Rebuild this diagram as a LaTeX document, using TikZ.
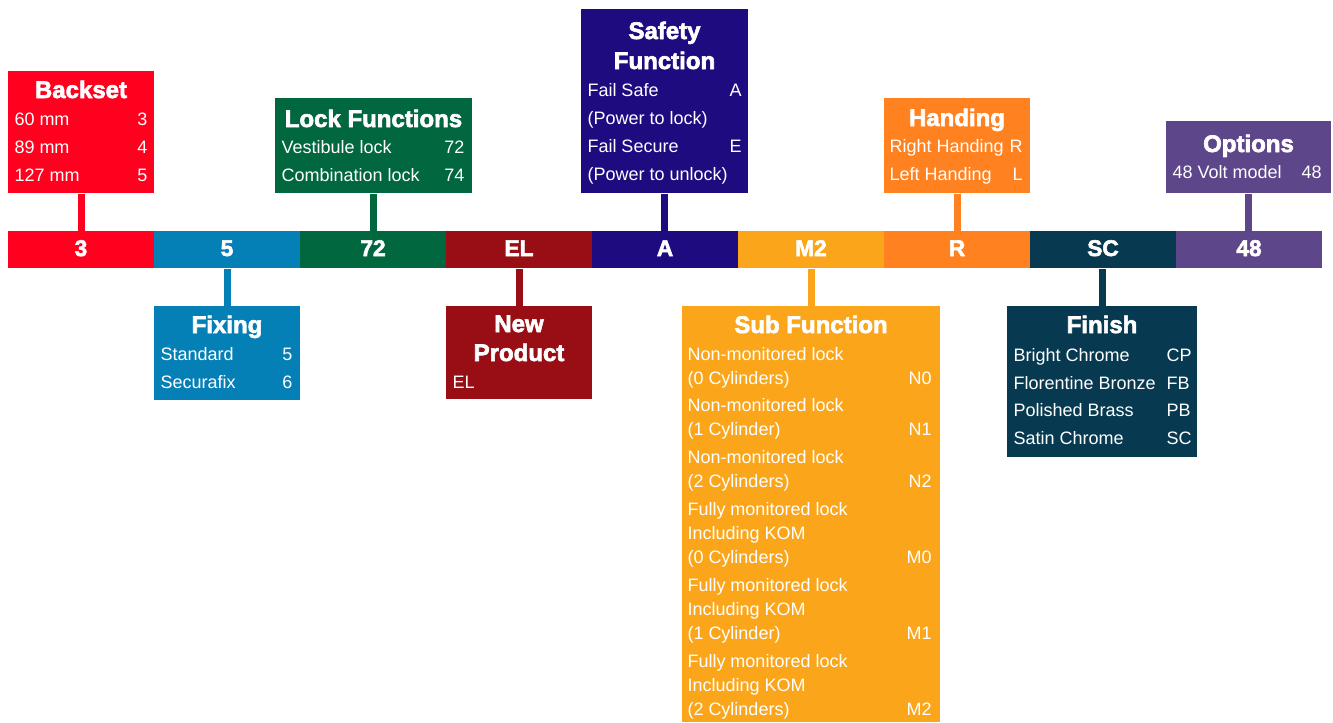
\documentclass[tikz,border=0pt]{standalone}
\usepackage{fontspec}
\setmainfont{Liberation Sans}
\newfontfamily\heavyfont[FakeBold=2.6]{Liberation Sans Bold}
\usetikzlibrary{fit}

\definecolor{backsetred}{RGB}{255,0,30}
\definecolor{fixingblue}{RGB}{5,128,183}
\definecolor{lockgreen}{RGB}{0,103,63}
\definecolor{newred}{RGB}{152,14,20}
\definecolor{safetyblue}{RGB}{31,11,128}
\definecolor{subamber}{RGB}{251,166,26}
\definecolor{handorange}{RGB}{255,129,32}
\definecolor{finishteal}{RGB}{7,58,80}
\definecolor{optpurple}{RGB}{94,70,138}

\tikzset{every picture/.style={line width=0.75pt}}
\tikzset{
  panel/.style={inner sep=0pt, draw=none},
  ttl/.style={anchor=base, inner sep=0.75pt, text=white, font=\heavyfont\fontsize{18}{20}\selectfont},
  segtxt/.style={anchor=base, inner sep=0.75pt, text=white, font=\heavyfont\fontsize{17}{20}\selectfont},
  itm/.style={anchor=base west, inner sep=0.75pt, text=white, font=\fontsize{13.5}{16}\selectfont},
  codetxt/.style={anchor=base east, inner sep=0.75pt, text=white, font=\fontsize{13.5}{16}\selectfont},
  lnk/.style={line width=5.25pt},
}

\begin{document}
\begin{tikzpicture}[x=0.75pt,y=0.75pt,yscale=-1,xscale=1]
\useasboundingbox (0,0) rectangle (1333,722);
%Code bar segments
\node [panel, fill=backsetred, fit={(8,231) (154,268)}] (s3) {};
\node [panel, fill=fixingblue, fit={(154,231) (300,268)}] (s5) {};
\node [panel, fill=lockgreen, fit={(300,231) (446,268)}] (s72) {};
\node [panel, fill=newred, fit={(446,231) (592,268)}] (sEL) {};
\node [panel, fill=safetyblue, fit={(592,231) (738,268)}] (sA) {};
\node [panel, fill=subamber, fit={(738,231) (884,268)}] (sM2) {};
\node [panel, fill=handorange, fit={(884,231) (1030,268)}] (sR) {};
\node [panel, fill=finishteal, fit={(1030,231) (1176,268)}] (sSC) {};
\node [panel, fill=optpurple, fit={(1176,231) (1322,268)}] (s48) {};
% Text Node
\draw (81,256) node [segtxt] (l3) {3};
\draw (227,256) node [segtxt] (l5) {5};
\draw (373,256) node [segtxt] (l72) {72};
\draw (519,256) node [segtxt] (lEL) {EL};
\draw (665,256) node [segtxt] (lA) {A};
\draw (811,256) node [segtxt] (lM2) {M2};
\draw (957,256) node [segtxt] (lR) {R};
\draw (1103,256) node [segtxt] (lSC) {SC};
\draw (1249,256) node [segtxt] (l48) {48};

%Shape: Backset panel
\node [panel, fill=backsetred, fit={(8,71) (154,193)}] (backset) {};
\draw [lnk, backsetred] (backset.south) -- (backset.south |- s3.north) ;
% Text Node
\draw (81,98) node [ttl] (bsT) {Backset};
\draw (13,125) node [itm] (bs1) {60 mm};
\draw (149,125) node [codetxt] (bs1c) {3};
\draw (13,153) node [itm] (bs2) {89 mm};
\draw (149,153) node [codetxt] (bs2c) {4};
\draw (13,181) node [itm] (bs3) {127 mm};
\draw (149,181) node [codetxt] (bs3c) {5};

%Shape: Lock Functions panel
\node [panel, fill=lockgreen, fit={(275,98) (472,193)}] (lockfn) {};
\draw [lnk, lockgreen] (lockfn.south) -- (lockfn.south |- s72.north) ;
% Text Node
\draw (373.5,127) node [ttl] (lfT) {Lock Functions};
\draw (280,153) node [itm] (lf1) {Vestibule lock};
\draw (466,153) node [codetxt] (lf1c) {72};
\draw (280,181) node [itm] (lf2) {Combination lock};
\draw (466,181) node [codetxt] (lf2c) {74};

%Shape: Safety Function panel
\node [panel, fill=safetyblue, fit={(581,9) (748,193)}] (safety) {};
\draw [lnk, safetyblue] (safety.south) -- (safety.south |- sA.north) ;
% Text Node
\draw (664.5,39) node [ttl] (sfT1) {Safety};
\draw (664.5,69) node [ttl] (sfT2) {Function};
\draw (586,96) node [itm] (sf1) {Fail Safe};
\draw (743,96) node [codetxt] (sf1c) {A};
\draw (586,124) node [itm] (sf2) {(Power to lock)};
\draw (586,152) node [itm] (sf3) {Fail Secure};
\draw (743,152) node [codetxt] (sf3c) {E};
\draw (586,180) node [itm] (sf4) {(Power to unlock)};

%Shape: Handing panel
\node [panel, fill=handorange, fit={(884,98) (1030,193)}] (handing) {};
\draw [lnk, handorange] (handing.south) -- (handing.south |- sR.north) ;
% Text Node
\draw (957,126) node [ttl] (hdT) {Handing};
\draw (888,152) node [itm] (hd1) {Right Handing};
\draw (1024,152) node [codetxt] (hd1c) {R};
\draw (888,180) node [itm] (hd2) {Left Handing};
\draw (1024,180) node [codetxt] (hd2c) {L};

%Shape: Options panel
\node [panel, fill=optpurple, fit={(1166,121) (1331,193)}] (options) {};
\draw [lnk, optpurple] (options.south) -- (options.south |- s48.north) ;
% Text Node
\draw (1248.5,152) node [ttl] (opT) {Options};
\draw (1171,178) node [itm] (op1) {48 Volt model};
\draw (1323,178) node [codetxt] (op1c) {48};

%Shape: Fixing panel
\node [panel, fill=fixingblue, fit={(154,306) (300,400)}] (fixing) {};
\draw [lnk, fixingblue] (fixing.north) -- (fixing.north |- s5.south) ;
% Text Node
\draw (227,333) node [ttl] (fxT) {Fixing};
\draw (159,360) node [itm] (fx1) {Standard};
\draw (294,360) node [codetxt] (fx1c) {5};
\draw (159,388) node [itm] (fx2) {Securafix};
\draw (294,388) node [codetxt] (fx2c) {6};

%Shape: New Product panel
\node [panel, fill=newred, fit={(446,306) (592,399)}] (newprod) {};
\draw [lnk, newred] (newprod.north) -- (newprod.north |- sEL.south) ;
% Text Node
\draw (519,332) node [ttl] (npT1) {New};
\draw (519,361) node [ttl] (npT2) {Product};
\draw (451,388) node [itm] (np1) {EL};

%Shape: Sub Function panel
\node [panel, fill=subamber, fit={(682,306) (940,722)}] (subfn) {};
\draw [lnk, subamber] (subfn.north) -- (subfn.north |- sM2.south) ;
% Text Node
\draw (811,333) node [ttl] (sbT) {Sub Function};
\draw (686,360) node [itm] (sb1) {Non-monitored lock};
\draw (686,384) node [itm] (sb2) {(0 Cylinders)};
\draw (933,384) node [codetxt] (sb2c) {N0};
\draw (686,411) node [itm] (sb3) {Non-monitored lock};
\draw (686,435) node [itm] (sb4) {(1 Cylinder)};
\draw (933,435) node [codetxt] (sb4c) {N1};
\draw (686,463) node [itm] (sb5) {Non-monitored lock};
\draw (686,487) node [itm] (sb6) {(2 Cylinders)};
\draw (933,487) node [codetxt] (sb6c) {N2};
\draw (686,515) node [itm] (sb7) {Fully monitored lock};
\draw (686,539) node [itm] (sb8) {Including KOM};
\draw (686,563) node [itm] (sb9) {(0 Cylinders)};
\draw (933,563) node [codetxt] (sb9c) {M0};
\draw (686,591) node [itm] (sb10) {Fully monitored lock};
\draw (686,615) node [itm] (sb11) {Including KOM};
\draw (686,639) node [itm] (sb12) {(1 Cylinder)};
\draw (933,639) node [codetxt] (sb12c) {M1};
\draw (686,667) node [itm] (sb13) {Fully monitored lock};
\draw (686,691) node [itm] (sb14) {Including KOM};
\draw (686,715) node [itm] (sb15) {(2 Cylinders)};
\draw (933,715) node [codetxt] (sb15c) {M2};

%Shape: Finish panel
\node [panel, fill=finishteal, fit={(1007,306) (1197,457)}] (finish) {};
\draw [lnk, finishteal] (finish.north) -- (finish.north |- sSC.south) ;
% Text Node
\draw (1102,333) node [ttl] (fnT) {Finish};
\draw (1012,361) node [itm] (fn1) {Bright Chrome};
\draw (1165,361) node [itm] (fn1c) {CP};
\draw (1012,389) node [itm] (fn2) {Florentine Bronze};
\draw (1165,389) node [itm] (fn2c) {FB};
\draw (1012,416) node [itm] (fn3) {Polished Brass};
\draw (1165,416) node [itm] (fn3c) {PB};
\draw (1012,444) node [itm] (fn4) {Satin Chrome};
\draw (1165,444) node [itm] (fn4c) {SC};
\end{tikzpicture}
\end{document}
